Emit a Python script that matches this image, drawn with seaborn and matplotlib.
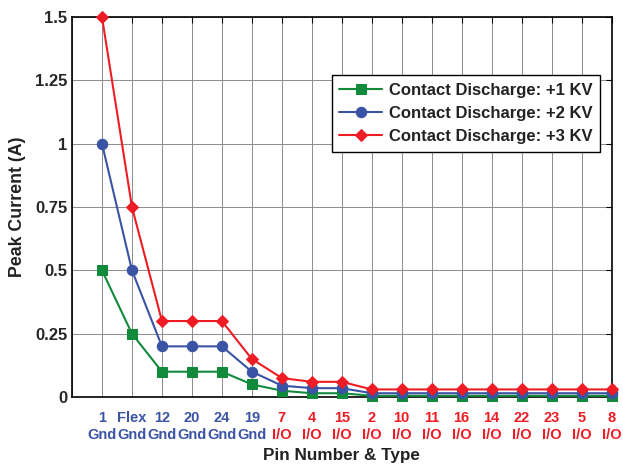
import matplotlib
matplotlib.use("Agg")
import matplotlib.pyplot as plt
import seaborn as sns
import pandas as pd

pins = ["1", "Flex", "12", "20", "24", "19", "7", "4", "15", "2", "10", "11", "16", "14", "22", "23", "5", "8"]
types = ["Gnd"] * 6 + ["I/O"] * 12
kv1 = [0.5, 0.25, 0.1, 0.1, 0.1, 0.05, 0.025, 0.015, 0.015, 0.005, 0.005, 0.005, 0.005, 0.005, 0.005, 0.005, 0.005, 0.005]
kv2 = [1.0, 0.5, 0.2, 0.2, 0.2, 0.1, 0.045, 0.035, 0.035, 0.015, 0.015, 0.015, 0.015, 0.015, 0.015, 0.015, 0.015, 0.015]
kv3 = [1.5, 0.75, 0.3, 0.3, 0.3, 0.15, 0.075, 0.06, 0.06, 0.03, 0.03, 0.03, 0.03, 0.03, 0.03, 0.03, 0.03, 0.03]
series_names = ["Contact Discharge: +1 KV", "Contact Discharge: +2 KV", "Contact Discharge: +3 KV"]

sns.set_style("white")
plt.rcParams["font.family"] = ["Liberation Sans", "DejaVu Sans"]
plt.rcParams["font.weight"] = "bold"

pos = list(range(1, len(pins) + 1))
df = pd.DataFrame({"pos": pos * 3,
                   "val": kv1 + kv2 + kv3,
                   "series": [series_names[0]] * len(pos) + [series_names[1]] * len(pos) + [series_names[2]] * len(pos)})

fig = plt.figure(figsize=(6.23, 4.66), dpi=100)
ax = fig.add_axes([0.1156, 0.148, 0.866, 0.8155])

colors = ["#128a3c", "#3a53a4", "#ee1c24"]
markers = ["s", "o", "D"]
msizes = [7, 7.5, 6.5]
for name, c, m, ms in zip(series_names, colors, markers, msizes):
    sub = df[df["series"] == name]
    sns.lineplot(data=sub, x="pos", y="val", ax=ax, color=c, marker=m, markersize=ms,
                 markeredgecolor=c, linewidth=1.5, label=name, clip_on=False, zorder=3)

ax.set_xlim(0, 18)
ax.set_ylim(0, 1.5)
ax.set_xticks(pos)
ax.set_xticklabels([f"{p}\n{t}" for p, t in zip(pins, types)], fontsize=10.5, fontweight="bold", linespacing=1.3)
for lbl, t in zip(ax.get_xticklabels(), types):
    lbl.set_color("#3a53a4" if t == "Gnd" else "#ee1c24")
yt = [0, 0.25, 0.5, 0.75, 1, 1.25, 1.5]
ax.set_yticks(yt)
ax.set_yticklabels(["0", "0.25", "0.5", "0.75", "1", "1.25", "1.5"], fontsize=12, fontweight="bold")
ax.set_xticks(range(0, 19), minor=True)
ax.grid(True, which="minor", axis="x", color="#8c8c8c", linewidth=0.7)
ax.grid(True, which="major", axis="y", color="#8c8c8c", linewidth=0.7)
ax.grid(True, which="major", axis="x", color="#8c8c8c", linewidth=0.7)
ax.tick_params(which="both", direction="in", top=True, right=True, length=4, width=0.8, color="black")
ax.tick_params(axis="x", which="major", pad=10)
ax.tick_params(axis="x", which="minor", length=0)
for s in ax.spines.values():
    s.set_color("black")
    s.set_linewidth(1.2)

ax.set_xlabel("Pin Number & Type", fontsize=12.3, fontweight="bold", color="#222222", labelpad=4)
ax.set_ylabel("Peak Current (A)", fontsize=12.8, fontweight="bold", color="#222222", labelpad=6)

leg = ax.legend(loc="upper right", bbox_to_anchor=(0.979, 0.847), borderaxespad=0, fontsize=12,
                frameon=True, fancybox=False, edgecolor="black", framealpha=1,
                handlelength=2.6, borderpad=0.45, labelspacing=0.5, handletextpad=0.4)
leg.get_frame().set_linewidth(1.0)
for t in leg.get_texts():
    t.set_fontweight("bold")
    t.set_color("#222222")

fig.savefig("out.png", dpi=100)
